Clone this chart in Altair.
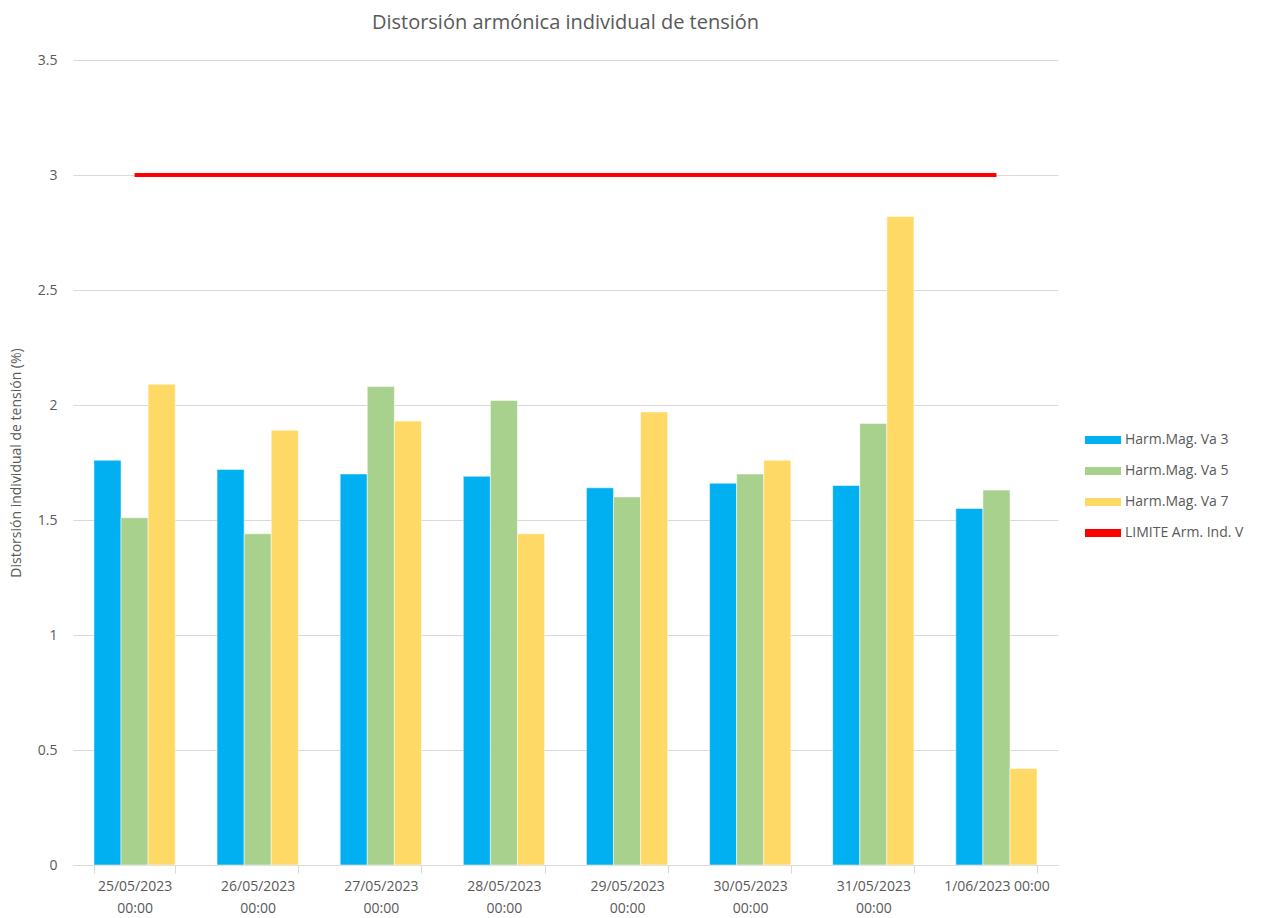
import altair as alt
import pandas as pd

fechas = ["25/05/2023|00:00", "26/05/2023|00:00", "27/05/2023|00:00", "28/05/2023|00:00",
          "29/05/2023|00:00", "30/05/2023|00:00", "31/05/2023|00:00", "1/06/2023 00:00"]
va3 = [1.76, 1.72, 1.70, 1.69, 1.64, 1.66, 1.65, 1.55]
va5 = [1.51, 1.44, 2.08, 2.02, 1.60, 1.70, 1.92, 1.63]
va7 = [2.09, 1.89, 1.93, 1.44, 1.97, 1.76, 2.82, 0.42]
limite = [3, 3, 3, 3, 3, 3, 3, 3]

series = ["Harm.Mag. Va 3", "Harm.Mag. Va 5", "Harm.Mag. Va 7", "LIMITE Arm. Ind. V"]
colores = ["#00B0F0", "#A9D18E", "#FFD966", "#FF0000"]

rows = []
for name, vals in zip(series[:3], [va3, va5, va7]):
    for f, v in zip(fechas, vals):
        rows.append({"fecha": f, "serie": name, "valor": v})
bars_df = pd.DataFrame(rows)
line_df = pd.DataFrame({"fecha": fechas, "serie": series[3], "valor": limite})

FONT = "Open Sans"
GREY = "#595959"

x_enc = alt.X("fecha:N", sort=fechas,
              scale=alt.Scale(paddingInner=0.34, paddingOuter=0.17),
              axis=alt.Axis(title=None, labelAngle=0,
                            labelExpr="datum.value ? split(datum.value, '|') : ''",
                            tickBand="extent", tickColor="#d9d9d9", tickSize=8,
                            domainColor="#d9d9d9", labelPadding=6,
                            labelLineHeight=22, labelFontSize=14,
                            labelColor=GREY, labelFont=FONT, grid=False))
y_enc = alt.Y("valor:Q",
              scale=alt.Scale(domain=[0, 3.5], nice=False),
              axis=alt.Axis(title="Distorsión individual de tensión (%)",
                            values=[0, 0.5, 1, 1.5, 2, 2.5, 3, 3.5],
                            format=".1~f", domain=False, ticks=False,
                            gridColor="#d9d9d9", labelPadding=16,
                            labelFontSize=14, labelColor=GREY, labelFont=FONT,
                            titleFontSize=14, titleColor=GREY, titleFont=FONT,
                            titleFontWeight="normal", titlePadding=14))
color_enc = alt.Color("serie:N",
                      scale=alt.Scale(domain=series, range=colores),
                      legend=alt.Legend(title=None, orient="none",
                                        legendX=1012, legendY=362,
                                        symbolType="M-1,-0.22H1V0.22H-1Z",
                                        symbolSize=1296, symbolStrokeWidth=0,
                                        labelFontSize=14, labelColor=GREY,
                                        labelFont=FONT, rowPadding=6,
                                        labelOffset=4))

bars = alt.Chart(bars_df).mark_bar(stroke="white", strokeWidth=0.5).encode(
    x=x_enc,
    xOffset=alt.XOffset("serie:N", sort=series[:3]),
    y=y_enc,
    color=color_enc,
)

line = alt.Chart(line_df).mark_line(strokeWidth=4).encode(
    x=x_enc,
    y=y_enc,
    color=color_enc,
)

chart = alt.layer(bars, line).properties(
    width=985, height=805,
    title=alt.TitleParams("Distorsión armónica individual de tensión",
                          fontSize=20, color=GREY, font=FONT,
                          fontWeight="normal", offset=20),
    autosize=alt.AutoSizeParams(type="none"),
    padding={"left": 73, "top": 60, "right": 212, "bottom": 53},
).configure_view(stroke=None)

chart.save("out.html", embed_options={"renderer": "svg", "actions": False})
